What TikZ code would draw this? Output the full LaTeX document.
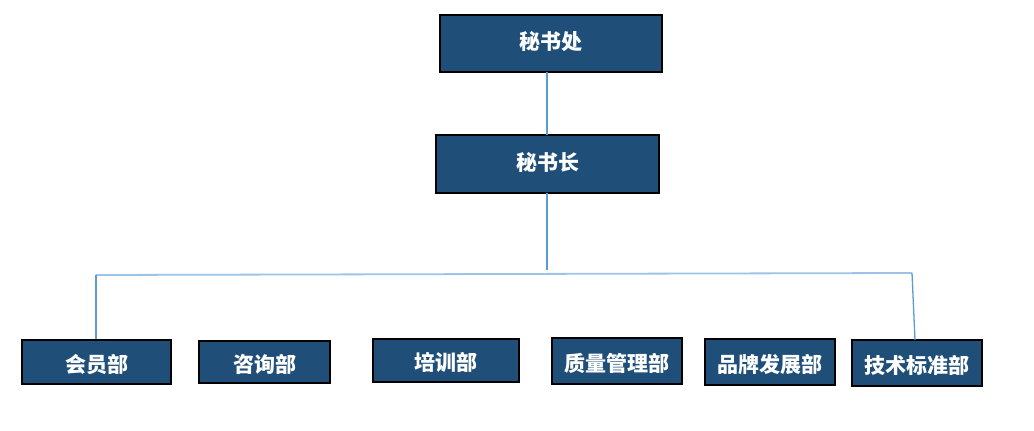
\documentclass[tikz,border=0pt]{standalone}
\usepackage{fontspec}
\newfontfamily\cjk{Noto Sans CJK SC}
\definecolor{boxblue}{HTML}{1F4E79}
\definecolor{linkblue}{HTML}{5B9BD5}
\definecolor{hlink}{HTML}{9DC3E6}
\begin{document}
\begin{tikzpicture}[x=1pt,y=-1pt,
  box/.style={draw=black, line width=1.2pt, fill=boxblue, text=white, font=\cjk\bfseries\fontsize{21}{22}\selectfont, inner sep=0pt, text height=16pt, text depth=4pt, anchor=center},
  dept/.style={box, execute at begin node={\lower4pt\hbox\bgroup}, execute at end node={\egroup}},
  link/.style={draw=linkblue, line width=1.3pt},
  hline/.style={draw=hlink, line width=1.8pt}]
\useasboundingbox (0,0) rectangle (1034,431);
\node[box, minimum width=222pt, minimum height=57pt] (b1) at (551,43.5) {秘书处};
\node[box, minimum width=223pt, minimum height=58pt] (b2) at (547.5,164) {秘书长};
\node[dept, minimum width=149pt, minimum height=44pt] (d1) at (96.5,362) {会员部};
\node[dept, minimum width=131pt, minimum height=42pt] (d2) at (264.5,362) {咨询部};
\node[dept, minimum width=146pt, minimum height=43pt] (d3) at (446,360.5) {培训部};
\node[dept, minimum width=130pt, minimum height=46pt] (d4) at (617,361) {质量管理部};
\node[dept, minimum width=130pt, minimum height=46pt] (d5) at (770,362) {品牌发展部};
\node[dept, minimum width=130pt, minimum height=46pt] (d6) at (917,363) {技术标准部};
\coordinate (s1) at (547,72);
\coordinate (t2) at (547,135);
\coordinate (s2) at (547,193);
\coordinate (m) at (547,270);
\coordinate (hL) at (96,275);
\coordinate (hR) at (912,273);
\coordinate (t6) at (915,340);
\draw[link] (s1) -- (t2);
\draw[link] (s2) -- (m);
\draw[hline] (hL) -- (hR);
\draw[link] (hL) -- (hL |- d1.north);
\draw[link] (hR) -- (t6);
\end{tikzpicture}
\end{document}
